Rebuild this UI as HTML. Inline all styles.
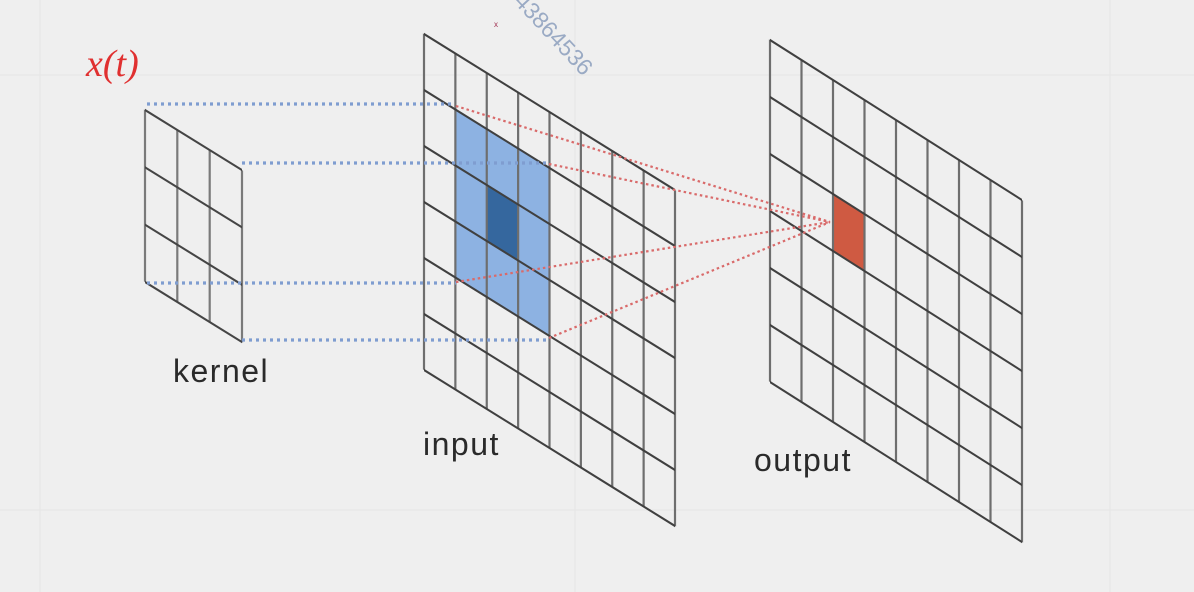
<!DOCTYPE html>
<html><head><style>
html,body{margin:0;padding:0;background:#efefef;}
svg{display:block;}
</style></head><body>
<svg width="1194" height="592" viewBox="0 0 1194 592" xmlns="http://www.w3.org/2000/svg">
<rect width="1194" height="592" fill="#efefef"/>
<g stroke="#e6e6e6" stroke-width="1">
<line x1="40" y1="0" x2="40" y2="592"/><line x1="1110" y1="0" x2="1110" y2="592"/>
<line x1="575" y1="0" x2="575" y2="592"/><line x1="0" y1="75" x2="1194" y2="75"/>
<line x1="0" y1="510" x2="1194" y2="510"/>
</g>
<text x="0" y="0" transform="translate(513,2) rotate(47)" font-family="Liberation Sans, sans-serif" font-size="23" fill="#9aaac4">43864536</text>
<text x="494" y="27" font-family="Liberation Sans, sans-serif" font-size="8" fill="#a03050">x</text>
<text x="86" y="76" font-family="Liberation Serif, serif" font-style="italic" font-size="38" fill="#e03030">x(t)</text>

<g transform="translate(145,110) matrix(1 0.619 0 1 0 0)">
<g stroke="#7a7a7a" stroke-width="2.2">
<line x1="0" y1="0" x2="0" y2="172"/><line x1="32.3" y1="0" x2="32.3" y2="172"/>
<line x1="64.7" y1="0" x2="64.7" y2="172"/><line x1="97" y1="0" x2="97" y2="172"/>
</g>
<g stroke="#454545" stroke-width="2.4">
<line x1="0" y1="0" x2="97" y2="0"/><line x1="0" y1="57.3" x2="97" y2="57.3"/>
<line x1="0" y1="114.7" x2="97" y2="114.7"/><line x1="0" y1="172" x2="97" y2="172"/>
</g>
</g>

<g transform="translate(424,34) matrix(1 0.6215 0 1 0 0)">
<rect x="31.375" y="56" width="94.125" height="168" fill="#8db2e2"/>
<rect x="62.75" y="112" width="31.375" height="56" fill="#35679e"/>
<g stroke="#6e6e6e" stroke-width="2.2">
<line x1="0" y1="0" x2="0" y2="336"/><line x1="31.375" y1="0" x2="31.375" y2="336"/>
<line x1="62.75" y1="0" x2="62.75" y2="336"/><line x1="94.125" y1="0" x2="94.125" y2="336"/>
<line x1="125.5" y1="0" x2="125.5" y2="336"/><line x1="156.875" y1="0" x2="156.875" y2="336"/>
<line x1="188.25" y1="0" x2="188.25" y2="336"/><line x1="219.625" y1="0" x2="219.625" y2="336"/>
<line x1="251" y1="0" x2="251" y2="336"/>
</g>
<g stroke="#404040" stroke-width="2.4">
<line x1="0" y1="0" x2="251" y2="0"/><line x1="0" y1="56" x2="251" y2="56"/>
<line x1="0" y1="112" x2="251" y2="112"/><line x1="0" y1="168" x2="251" y2="168"/>
<line x1="0" y1="224" x2="251" y2="224"/><line x1="0" y1="280" x2="251" y2="280"/>
<line x1="0" y1="336" x2="251" y2="336"/>
</g>
</g>

<g transform="translate(770,40) matrix(1 0.635 0 1 0 0)">
<rect x="63" y="114" width="31.5" height="57" fill="#cf5a42"/>
<g stroke="#6e6e6e" stroke-width="2.2">
<line x1="0" y1="0" x2="0" y2="342"/><line x1="31.5" y1="0" x2="31.5" y2="342"/>
<line x1="63" y1="0" x2="63" y2="342"/><line x1="94.5" y1="0" x2="94.5" y2="342"/>
<line x1="126" y1="0" x2="126" y2="342"/><line x1="157.5" y1="0" x2="157.5" y2="342"/>
<line x1="189" y1="0" x2="189" y2="342"/><line x1="220.5" y1="0" x2="220.5" y2="342"/>
<line x1="252" y1="0" x2="252" y2="342"/>
</g>
<g stroke="#404040" stroke-width="2.4">
<line x1="0" y1="0" x2="252" y2="0"/><line x1="0" y1="57" x2="252" y2="57"/>
<line x1="0" y1="114" x2="252" y2="114"/><line x1="0" y1="171" x2="252" y2="171"/>
<line x1="0" y1="228" x2="252" y2="228"/><line x1="0" y1="285" x2="252" y2="285"/>
<line x1="0" y1="342" x2="252" y2="342"/>
</g>
</g>

<g stroke="#7f9dd0" stroke-width="3.2" stroke-dasharray="3 4">
<line x1="147" y1="104" x2="455" y2="104"/>
<line x1="242" y1="163" x2="549" y2="163"/>
<line x1="147" y1="283" x2="456" y2="283"/>
<line x1="242" y1="340" x2="549" y2="340"/>
</g>
<g stroke="#d96a6a" stroke-width="2.2" stroke-dasharray="2.5 3">
<line x1="456" y1="106" x2="830" y2="222"/>
<line x1="549" y1="164" x2="830" y2="222"/>
<line x1="456" y1="282" x2="830" y2="222"/>
<line x1="549" y1="338" x2="830" y2="222"/>
</g>

<g font-family="Liberation Sans, sans-serif" font-size="32" fill="#2a2a2a" letter-spacing="1.5">
<text x="173" y="382">kernel</text>
<text x="423" y="455">input</text>
<text x="754" y="471">output</text>
</g>
</svg>
</body></html>
